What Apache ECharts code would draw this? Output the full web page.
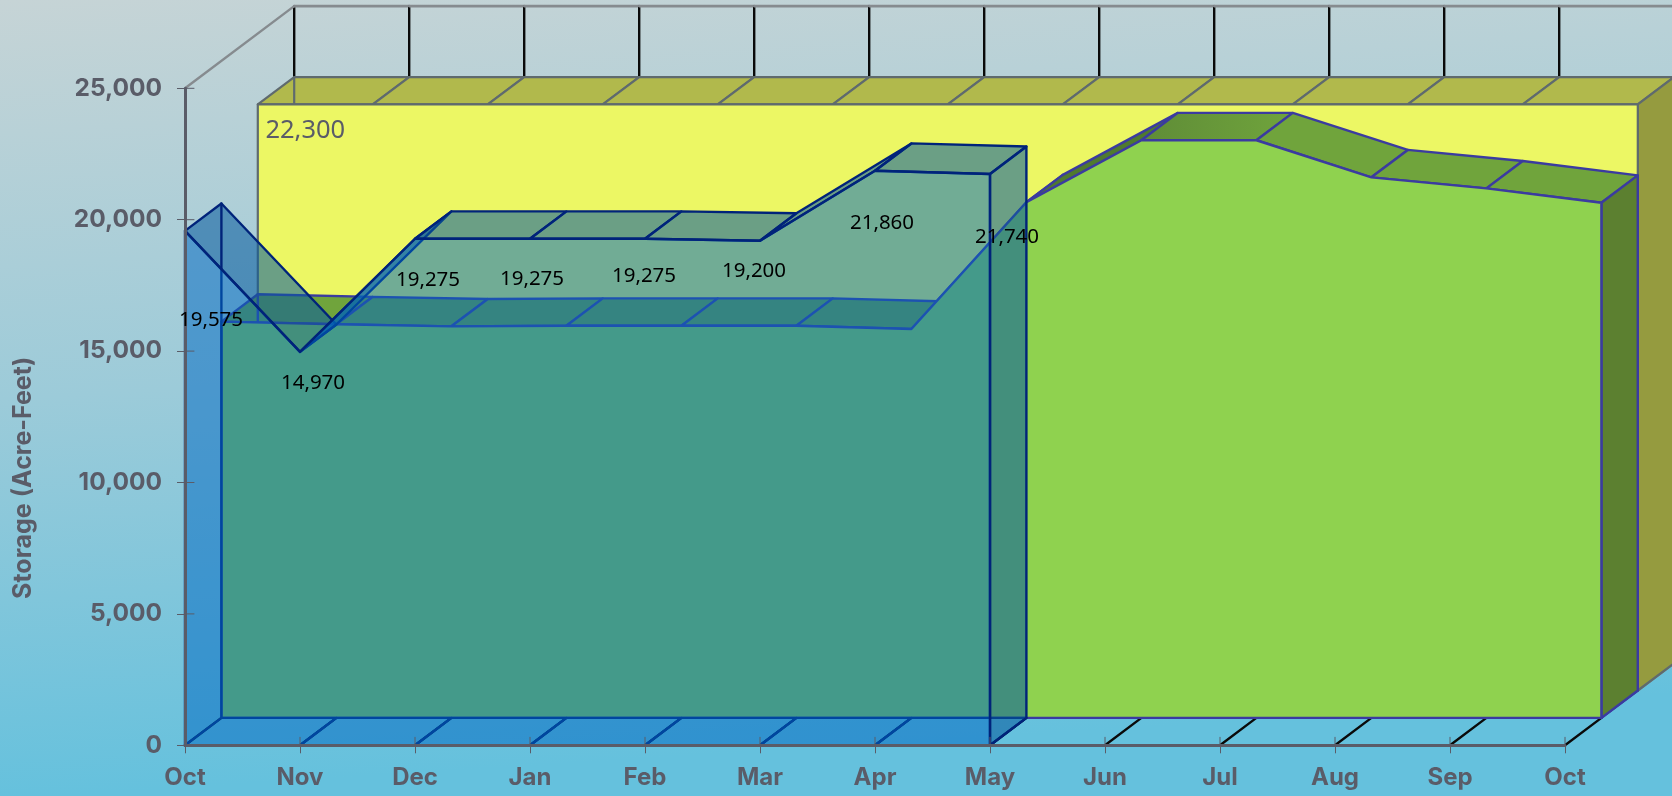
<!DOCTYPE html>
<html><head><meta charset="utf-8">
<style>html,body{margin:0;padding:0;width:100%;height:100%;overflow:hidden}#c{width:1672px;height:796px}</style>
<script src="https://cdn.jsdelivr.net/npm/echarts@6/dist/echarts.min.js"></script>
</head><body><div id="c"></div>
<script>
const months = ['Oct','Nov','Dec','Jan','Feb','Mar','Apr','May','Jun','Jul','Aug','Sep','Oct'];
const blueValues = [19575,14970,19275,19275,19275,19200,21860,21740];
const greenValues = [15080,14980,14900,14920,14920,14920,14800,19620,21980,21980,20570,20150,19600];
const yellowValues = [22300,22300,22300,22300,22300,22300,22300,22300,22300,22300,22300,22300,22300];
const yTicks = [0,5000,10000,15000,20000,25000];

const DX = 36.4, DY = -27.4;
const FONT = 'Inter, "Noto Sans", sans-serif';
const LABEL_FONT = '"Noto Sans", sans-serif';
const GREY = '#5a5c68';
const blueLabelOffsets = [[26,89],[13,31],[13,41],[2,40],[-1,37],[-6,30],[7,52],[17,63]];
const greenTopShades = {
  7:'#4f7a2f',
  8:{type:'linear',x:0,y:0,x2:1,y2:0,colorStops:[{offset:0,color:'#5f8c37'},{offset:1,color:'#70a43c'}]}
};

function shifted(api, x, v, k){
  const p = api.coord([x, v]);
  return [p[0] + DX*k, p[1] + DY*k];
}
function poly(points, fill, stroke, width){
  return {type:'polygon', shape:{points}, silent:true,
    style:{fill, stroke: stroke||'none', lineWidth: width||0, lineJoin:'round'}};
}
function line(a, b, stroke, width){
  return {type:'line', shape:{x1:a[0],y1:a[1],x2:b[0],y2:b[1]}, silent:true,
    style:{stroke, lineWidth:width, lineCap:'round'}};
}
function areaSeries(name, values, slot, st){
  const last = values.length-1;
  const shell = {
    name:name+' top', type:'custom', coordinateSystem:'cartesian2d', z:st.z,
    data: values.map((v,i)=>[i,v]), encode:{x:0,y:1}, clip:false,
    renderItem(params, api){
      const i = params.dataIndex, kids = [];
      if(i<last){
        kids.push(poly([shifted(api,i,0,slot),shifted(api,i+1,0,slot),shifted(api,i+1,0,slot+1),shifted(api,i,0,slot+1)],'none',st.floorEdge,st.edgeWidth));
        const topFill = (st.topShades && st.topShades[i]) || st.top;
        kids.push(poly([shifted(api,i,values[i],slot),shifted(api,i+1,values[i+1],slot),shifted(api,i+1,values[i+1],slot+1),shifted(api,i,values[i],slot+1)],topFill,st.edge,st.edgeWidth));
      } else {
        kids.push(poly([shifted(api,i,values[i],slot),shifted(api,i,values[i],slot+1),shifted(api,i,0,slot+1),shifted(api,i,0,slot)],st.side,st.edge,st.edgeWidth));
      }
      if(i===0) kids.push(line(shifted(api,0,0,slot+1),shifted(api,0,values[0],slot+1),st.edge,st.edgeWidth));
      return {type:'group', children:kids};
    }
  };
  const front = {
    name:name, type:'custom', coordinateSystem:'cartesian2d', z:st.z+1,
    data: [[0,values[0]]], encode:{x:0,y:1}, clip:false,
    renderItem(params, api){
      const pts = [shifted(api,0,0,slot)];
      values.forEach((v,j)=>pts.push(shifted(api,j,v,slot)));
      pts.push(shifted(api,last,0,slot));
      return poly(pts,st.front,st.edge,st.edgeWidth);
    }
  };
  return [shell, front];
}
const wallSeries = {
  name:'Wall', type:'custom', coordinateSystem:'cartesian2d', z:2, clip:false,
  data: months.map((m,i)=>[i,25000]), encode:{x:0,y:1},
  renderItem(params, api){
    const i = params.dataIndex, kids = [];
    kids.push(line(shifted(api,i,22300,3),shifted(api,i,25000,3),'#0a0a0a',2.4));
    kids.push(line(shifted(api,i,0,0),shifted(api,i,0,1),'#0a0a0a',2.4));
    if(i<months.length-1) kids.push(line(shifted(api,i,25000,3),shifted(api,i+1,25000,3),'#868b8f',2.6));
    if(i===0) kids.push(line(shifted(api,0,25000,0),shifted(api,0,25000,3),'#868b8f',2.4));
    return {type:'group', children:kids};
  }
};
const tickSeries = {
  name:'Ticks', type:'custom', coordinateSystem:'cartesian2d', z:20, clip:false,
  data: months.map((m,i)=>[i,0]), encode:{x:0,y:1},
  renderItem(params, api){
    const i = params.dataIndex, kids = [];
    const p = api.coord([i,0]);
    kids.push(line(p,[p[0],p[1]-8],GREY,1));
    if(i<yTicks.length){
      const q = api.coord([0,yTicks[i]]);
      kids.push(line(q,[q[0]+9,q[1]],GREY,1));
    }
    return {type:'group', children:kids};
  }
};
const blueLabels = {
  name:'Blue labels', type:'custom', coordinateSystem:'cartesian2d', z:30, clip:false,
  data: blueValues.map((v,i)=>[i,v]), encode:{x:0,y:1},
  renderItem(params, api){
    const i = params.dataIndex, v = blueValues[i];
    const p = api.coord([i,v]), o = blueLabelOffsets[i];
    return {type:'text', silent:true, x:p[0]+o[0], y:p[1]+o[1],
      style:{text:v.toLocaleString('en-US'), fill:'#000', font:'20.5px '+LABEL_FONT, align:'center', verticalAlign:'middle'}};
  }
};
const yellowLabel = {
  name:'Yellow label', type:'custom', coordinateSystem:'cartesian2d', z:5, clip:false,
  data: [[0,yellowValues[0]]], encode:{x:0,y:1},
  renderItem(params, api){
    const p = shifted(api,0,yellowValues[0],2);
    return {type:'text', silent:true, x:p[0]+47.5, y:p[1]+26,
      style:{text:yellowValues[0].toLocaleString('en-US'), fill:GREY, font:'25.5px '+LABEL_FONT, align:'center', verticalAlign:'middle'}};
  }
};
const axisCommon = {
  axisLine:{show:true, lineStyle:{color:GREY, width:3}},
  axisTick:{show:true, lineStyle:{color:GREY, width:1}, length:8},
  splitLine:{show:false}, z:15
};
const chart = echarts.init(document.getElementById('c'));
chart.setOption({
  animation:false,
  backgroundColor:{type:'linear',x:0,y:0,x2:0.03,y2:1,colorStops:[{offset:0,color:'#c6d4d6'},{offset:0.5,color:'#9ccbd9'},{offset:1,color:'#65c1dd'}]},
  grid:{left:185, top:88.3, width:1380, height:657},
  xAxis:Object.assign({type:'category', boundaryGap:false, data:months,
    axisLabel:{interval:0, color:GREY, fontFamily:FONT, fontWeight:700, fontSize:24, margin:20}},axisCommon),
  yAxis:Object.assign({type:'value', min:0, max:25000, interval:5000,
    name:'Storage (Acre-Feet)', nameLocation:'middle', nameRotate:90, nameGap:149,
    nameTextStyle:{color:GREY, fontFamily:FONT, fontWeight:700, fontSize:25, padding:[0,122,0,0]},
    axisLabel:{color:GREY, fontFamily:FONT, fontWeight:700, fontSize:24.5, margin:23, formatter:v=>v.toLocaleString('en-US')}},axisCommon),
  series:[
    wallSeries,
    ...areaSeries('Yellow',yellowValues,2,{z:3,front:'#ecf764',top:'#b1b94c',side:'#959b3f',floorEdge:'#7f8a80',edge:'#5f6a6e',edgeWidth:2.2}),
    yellowLabel,
    ...areaSeries('Green',greenValues,1,{z:7,front:'#8fd24f',top:'#70a43c',topShades:greenTopShades,side:'#5c8030',floorEdge:'#3b3ba0',edge:'#3b3ba0',edgeWidth:2.4}),
    ...areaSeries('Blue',blueValues,0,{z:10,front:'rgba(0,104,194,0.52)',top:'rgba(9,91,158,0.57)',side:'rgba(9,91,158,0.57)',floorEdge:'#00237a',edge:'#00237a',edgeWidth:2.4}),
    tickSeries, blueLabels
  ]
});
</script></body></html>
